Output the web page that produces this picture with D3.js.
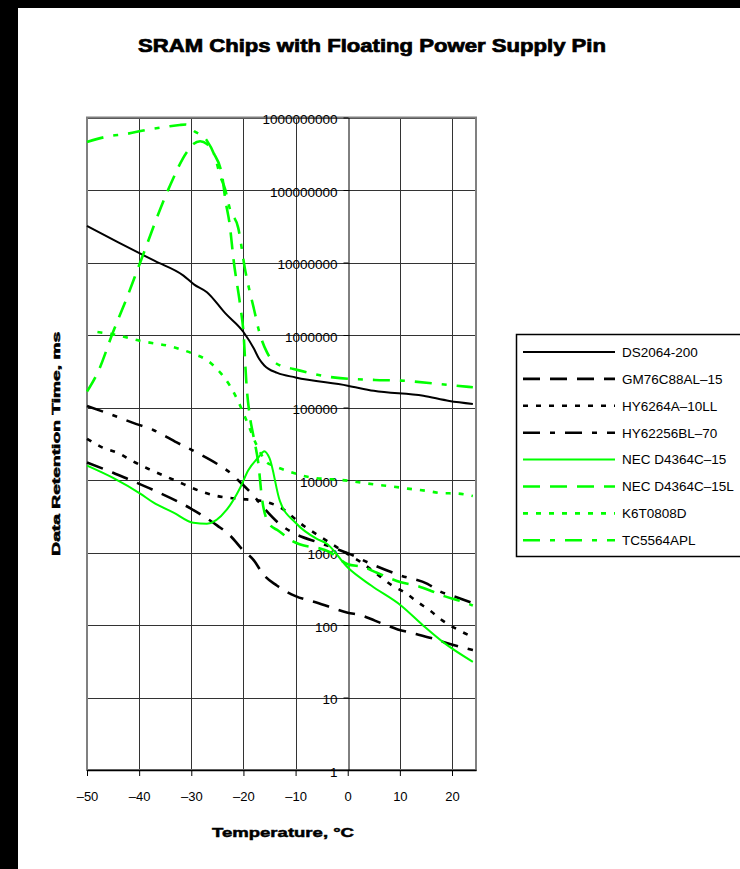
<!DOCTYPE html>
<html>
<head>
<meta charset="utf-8">
<script src="https://cdn.jsdelivr.net/npm/d3@7"></script>
<style>
  html, body { margin: 0; padding: 0; background: #fff; }
  svg { display: block; }
</style>
</head>
<body>
<div id="chart"></div>
<script>
// temperature in degrees C, retention time in ms
const ds2064 = [[-50, 3.2e7], [-44, 1.9e7], [-37, 1.05e7], [-31.5, 6.6e6], [-29.5, 5.0e6], [-27, 3.9e6],
  [-23.5, 2.0e6], [-20, 1.1e6], [-18, 6.5e5], [-17, 4.7e5], [-16, 3.8e5], [-13.5, 3.0e5], [-10, 2.6e5],
  [0, 2.0e5], [5, 1.7e5], [14.5, 1.45e5], [19.5, 1.23e5], [24, 1.12e5]];
const gm76c88 = [[-50, 17400], [-45, 12600], [-42, 10200], [-37.5, 7400], [-30, 4000], [-25, 2350],
  [-22.5, 1700], [-20.3, 1120], [-18, 780], [-16.2, 500], [-13.6, 350], [-10, 250], [-6, 205], [0, 148],
  [2.7, 135], [5.2, 115], [9.6, 87], [12.8, 76], [16, 66], [18.5, 58], [24, 45]];
const hy6264 = [[-50, 37000], [-47, 28000], [-43.7, 23000], [-41.5, 18600], [-38, 14000], [-33, 9800],
  [-27.7, 6800], [-25, 6000], [-19.4, 5400], [-16.2, 5100], [-13, 4200], [-8.5, 2350], [-4, 1450],
  [0, 950], [2, 780], [6, 480], [8.5, 350], [11, 280], [13.5, 205], [15.7, 160], [18.2, 115], [21, 87], [24, 68]];
const hy62256 = [[-50, 105000], [-45.6, 81000], [-40.5, 59000], [-37.3, 49000], [-32.8, 33000], [-29, 24000],
  [-25, 16600], [-22.2, 12000], [-20.6, 9300], [-18, 6000], [-16.2, 4200], [-13, 2450], [-10.4, 1860],
  [-5.3, 1350], [0, 980], [5.2, 660], [10.2, 480], [15.3, 370], [17.7, 290], [21, 240], [24, 200]];
const nec15 = [[-50, 15800], [-45, 10700], [-39.8, 6500], [-37.3, 4900], [-33.4, 3550], [-29.6, 2570],
  [-27, 2500], [-23.2, 3900], [-20.6, 7900], [-19.1, 13500], [-17, 21000], [-16, 25000], [-15, 20000],
  [-13, 5100], [-10, 2570], [-6, 1550], [-4, 1320], [0, 620], [4.5, 350], [10.2, 186], [14.5, 98],
  [18.3, 58], [24, 31]];
const nec15L = [[-50, 1.66e5], [-47.8, 3.2e5], [-45, 1.1e6], [-42.4, 3.2e6], [-39.8, 1.0e7], [-34.4, 1.02e8],
  [-30.9, 3.3e8], [-29.6, 4.3e8], [-28.3, 4.7e8], [-27, 4.3e8], [-25.7, 3.2e8], [-24.1, 1.6e8], [-23.5, 7.6e7],
  [-22.6, 3.2e7], [-21.9, 1.1e7], [-20.6, 2.5e6], [-20, 1.1e6], [-19.4, 2.0e5], [-18.8, 7.8e4], [-18.1, 4.1e4],
  [-17.1, 1.6e4], [-16.5, 6000], [-15.5, 2800], [-15, 2450], [-13.3, 2000], [-10.7, 1450], [-3.3, 1000],
  [0, 690], [3, 630], [5.6, 525], [10.2, 390], [13.4, 345], [16, 295], [18.5, 250], [21.1, 220], [24, 186]];
const k6t0808 = [[-48, 1.1e6], [-45, 1.02e6], [-39.8, 8.3e5], [-33.4, 6.8e5], [-29.6, 5.5e5], [-27, 4.5e5],
  [-24.4, 3.0e5], [-22.6, 2.0e5], [-20.6, 1.05e5], [-19, 56000], [-17.4, 29500], [-15.5, 17400],
  [-14.3, 15800], [-11, 12900], [-7.5, 11000], [0, 9800], [5, 8700], [8.8, 8100], [11.5, 7600],
  [15, 7100], [18, 6600], [21, 6500], [24, 6000]];
const tc5564 = [[-50, 4.6e8], [-45.9, 5.5e8], [-42.7, 5.9e8], [-37.9, 6.9e8], [-35, 7.4e8], [-32.2, 7.9e8],
  [-31, 8.0e8], [-29.6, 6.6e8], [-27, 4.8e8], [-25.4, 2.8e8], [-24.5, 1.6e8], [-23.5, 1.02e8], [-22.6, 5.5e7],
  [-21, 3.0e7], [-19.7, 8.1e6], [-17.8, 2.0e6], [-17.1, 1.2e6], [-15.5, 5.8e5], [-13, 3.8e5], [-10.4, 3.4e5],
  [-2.8, 2.6e5], [5.2, 2.4e5], [10.2, 2.35e5], [17.8, 2.1e5], [24, 1.9e5]];

const seriesNames = ["DS2064-200", "GM76C88AL\u201315", "HY6264A\u201310LL", "HY62256BL\u201370",
  "NEC D4364C\u201315", "NEC D4364C\u201315L", "K6T0808D", "TC5564APL"];
const seriesData = [ds2064, gm76c88, hy6264, hy62256, nec15, nec15L, k6t0808, tc5564];
const xTicks = [-50, -40, -30, -20, -10, 0, 10, 20];
const yTicks = [1, 10, 100, 1000, 10000, 100000, 1000000, 10000000, 100000000, 1000000000];

const width = 740;
const height = 869;
const plot = { left: 87, right: 476, top: 117.5, bottom: 770 };
const green = "#00ff00";
const styles = [
  { color: "#000", dash: null, w: 2 },
  { color: "#000", dash: "17,10", w: 2.6 },
  { color: "#000", dash: "5,8", w: 2.6 },
  { color: "#000", dash: "17,10,5,10", w: 2.6 },
  { color: green, dash: null, w: 2 },
  { color: green, dash: "17,10", w: 2.6 },
  { color: green, dash: "5,8", w: 2.6 },
  { color: green, dash: "17,10,5,10", w: 2.6 }
];

const svg = d3.select("#chart")
  .append("svg")
  .attr("width", width)
  .attr("height", height)
  .style("font-family", "'Liberation Sans', Arial, sans-serif");

svg.append("rect").attr("width", width).attr("height", height).attr("fill", "#fff");
// black frame on the left and top edges
svg.append("rect").attr("x", 0).attr("y", 0).attr("width", 18).attr("height", height).attr("fill", "#000");
svg.append("rect").attr("x", 0).attr("y", 0).attr("width", width).attr("height", 8).attr("fill", "#000");

const x = d3.scaleLinear().domain([-50, 24.6]).range([plot.left, plot.right]);
const y = d3.scaleLog().domain([1, 1e9]).range([plot.bottom, plot.top]);

// grid
const grid = svg.append("g").attr("stroke", "#333").attr("stroke-width", 1);
grid.selectAll("line.h")
  .data(yTicks.slice(1))
  .join("line")
  .attr("x1", plot.left).attr("x2", plot.right)
  .attr("y1", d => Math.round(y(d)) + 0.5).attr("y2", d => Math.round(y(d)) + 0.5);
grid.selectAll("line.v")
  .data(xTicks.filter(d => d !== -50 && d !== 0))
  .join("line")
  .attr("y1", plot.top).attr("y2", plot.bottom)
  .attr("x1", d => Math.round(x(d)) + 0.5).attr("x2", d => Math.round(x(d)) + 0.5);

svg.append("rect")
  .attr("x", plot.left).attr("y", plot.top)
  .attr("width", plot.right - plot.left).attr("height", plot.bottom - plot.top)
  .attr("fill", "none").attr("stroke", "#808080").attr("stroke-width", 2);

// x axis along the bottom
const xAxis = d3.axisBottom(x)
  .tickValues(xTicks)
  .tickSize(6)
  .tickSizeOuter(0)
  .tickPadding(16)
  .tickFormat(d => d < 0 ? "\u2013" + Math.abs(d) : d);
const gx = svg.append("g")
  .attr("transform", `translate(0,${plot.bottom})`)
  .call(xAxis);
gx.select(".domain").attr("stroke", "#000").attr("stroke-width", 1.5);
gx.selectAll(".tick line").attr("stroke", "#000");
gx.selectAll("text").attr("font-size", 13).attr("fill", "#000").attr("font-family", "'Liberation Sans', Arial, sans-serif");

// y axis crossing at 0 degrees
const yAxis = d3.axisLeft(y)
  .tickValues(yTicks)
  .tickSize(5)
  .tickSizeOuter(0)
  .tickPadding(6)
  .tickFormat(d3.format("d"));
const gy = svg.append("g")
  .attr("transform", `translate(${Math.round(x(0)) + 0.5},0)`)
  .call(yAxis);
gy.select(".domain").attr("stroke", "#000").attr("stroke-width", 1);
gy.selectAll(".tick line").attr("stroke", "#000");
gy.selectAll("text").attr("font-size", 13.5).attr("fill", "#000").attr("dy", "0.45em")
  .attr("font-family", "'Liberation Sans', Arial, sans-serif");

// series
const line = d3.line()
  .x(d => x(d[0]))
  .y(d => y(d[1]))
  .curve(d3.curveMonotoneX);

svg.append("g")
  .selectAll("path")
  .data(seriesData)
  .join("path")
  .attr("d", d => line(d))
  .attr("fill", "none")
  .attr("stroke", (d, i) => styles[i].color)
  .attr("stroke-width", (d, i) => styles[i].w)
  .attr("stroke-dasharray", (d, i) => styles[i].dash)
  .attr("stroke-linejoin", "round");

// titles (heavy face imitated with a thin stroke)
svg.append("text")
  .attr("x", 372).attr("y", 52)
  .attr("text-anchor", "middle")
  .attr("font-size", 18).attr("font-weight", "bold")
  .attr("stroke", "#000").attr("stroke-width", 0.7)
  .attr("textLength", 468).attr("lengthAdjust", "spacingAndGlyphs")
  .text("SRAM Chips with Floating Power Supply Pin");

svg.append("text")
  .attr("x", 283).attr("y", 837)
  .attr("text-anchor", "middle")
  .attr("font-size", 13.5).attr("font-weight", "bold")
  .attr("stroke", "#000").attr("stroke-width", 0.5)
  .attr("textLength", 142).attr("lengthAdjust", "spacingAndGlyphs")
  .text("Temperature, \u00b0C");

svg.append("text")
  .attr("transform", `translate(60,${(plot.top + plot.bottom) / 2}) rotate(-90)`)
  .attr("text-anchor", "middle")
  .attr("font-size", 10).attr("font-weight", "bold")
  .attr("stroke", "#000").attr("stroke-width", 0.5)
  .attr("textLength", 224).attr("lengthAdjust", "spacingAndGlyphs")
  .text("Data Retention Time, ms");

// legend
const legend = svg.append("g");
legend.append("rect")
  .attr("x", 516.5).attr("y", 334.5)
  .attr("width", 240).attr("height", 222)
  .attr("fill", "#fff").attr("stroke", "#000").attr("stroke-width", 1.5);

const rows = legend.selectAll("g.row")
  .data(seriesNames)
  .join("g")
  .attr("class", "row")
  .attr("transform", (d, i) => `translate(0,${352 + i * 26.9})`);

rows.append("line")
  .attr("x1", 523).attr("x2", 615)
  .attr("stroke", (d, i) => styles[i].color)
  .attr("stroke-width", (d, i) => styles[i].w)
  .attr("stroke-dasharray", (d, i) => styles[i].dash);

rows.append("text")
  .attr("x", 622).attr("dy", "0.36em")
  .attr("font-size", 13.5)
  .attr("fill", "#000")
  .text(d => d);
</script>
</body>
</html>
